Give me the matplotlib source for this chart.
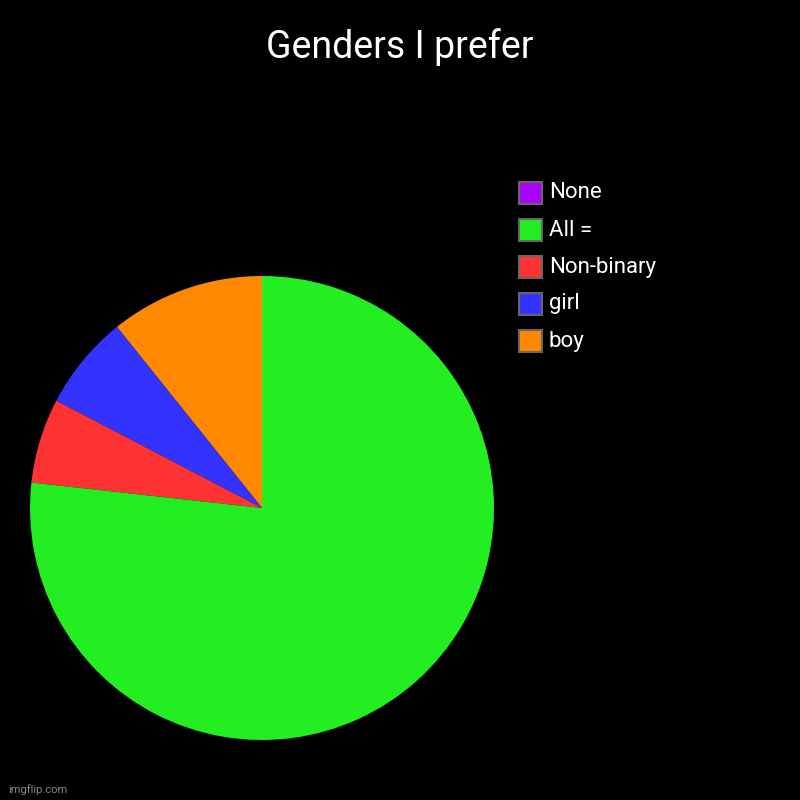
import matplotlib.pyplot as plt
from matplotlib.patches import Rectangle

labels = ["boy", "girl", "Non-binary", "All =", "None"]
values = [10.75, 6.6, 5.9, 76.75, 0]
colors = ["#FF8800", "#3333FF", "#FF3333", "#22EE22", "#AA00FF"]

plt.rcParams["font.family"] = ["Roboto", "DejaVu Sans"]

fig = plt.figure(figsize=(8, 8), dpi=100, facecolor="black")
ax = fig.add_axes([30 / 800, 60 / 800, 464 / 800, 464 / 800])
ax.set_facecolor("black")
ax.pie(values, colors=colors, startangle=90, counterclock=True,
       radius=1, wedgeprops=dict(linewidth=0))
ax.set_xlim(-1, 1)
ax.set_ylim(-1, 1)
ax.set_aspect("equal")
ax.axis("off")

fig.text(0.5, 1 - 47 / 800, "Genders I prefer", color="white",
         fontsize=27, ha="center", va="center")

# legend, drawn top-down in reverse order like the source
row_y = [193, 230, 267, 304, 341]
for y, lab, col in zip(row_y, labels[::-1], colors[::-1]):
    fig.patches.append(Rectangle((519 / 800, 1 - (y + 11) / 800), 23 / 800, 22 / 800,
                                 transform=fig.transFigure, facecolor=col,
                                 edgecolor="#666666", linewidth=1.5))
    fig.text(549 / 800, 1 - y / 800, lab, color="white", fontsize=16,
             ha="left", va="center")

fig.text(8 / 800, 1 - 790 / 800, "imgflip.com", color="#888888",
         fontsize=8, ha="left", va="center")

fig.savefig("out.png", dpi=100, facecolor="black")
